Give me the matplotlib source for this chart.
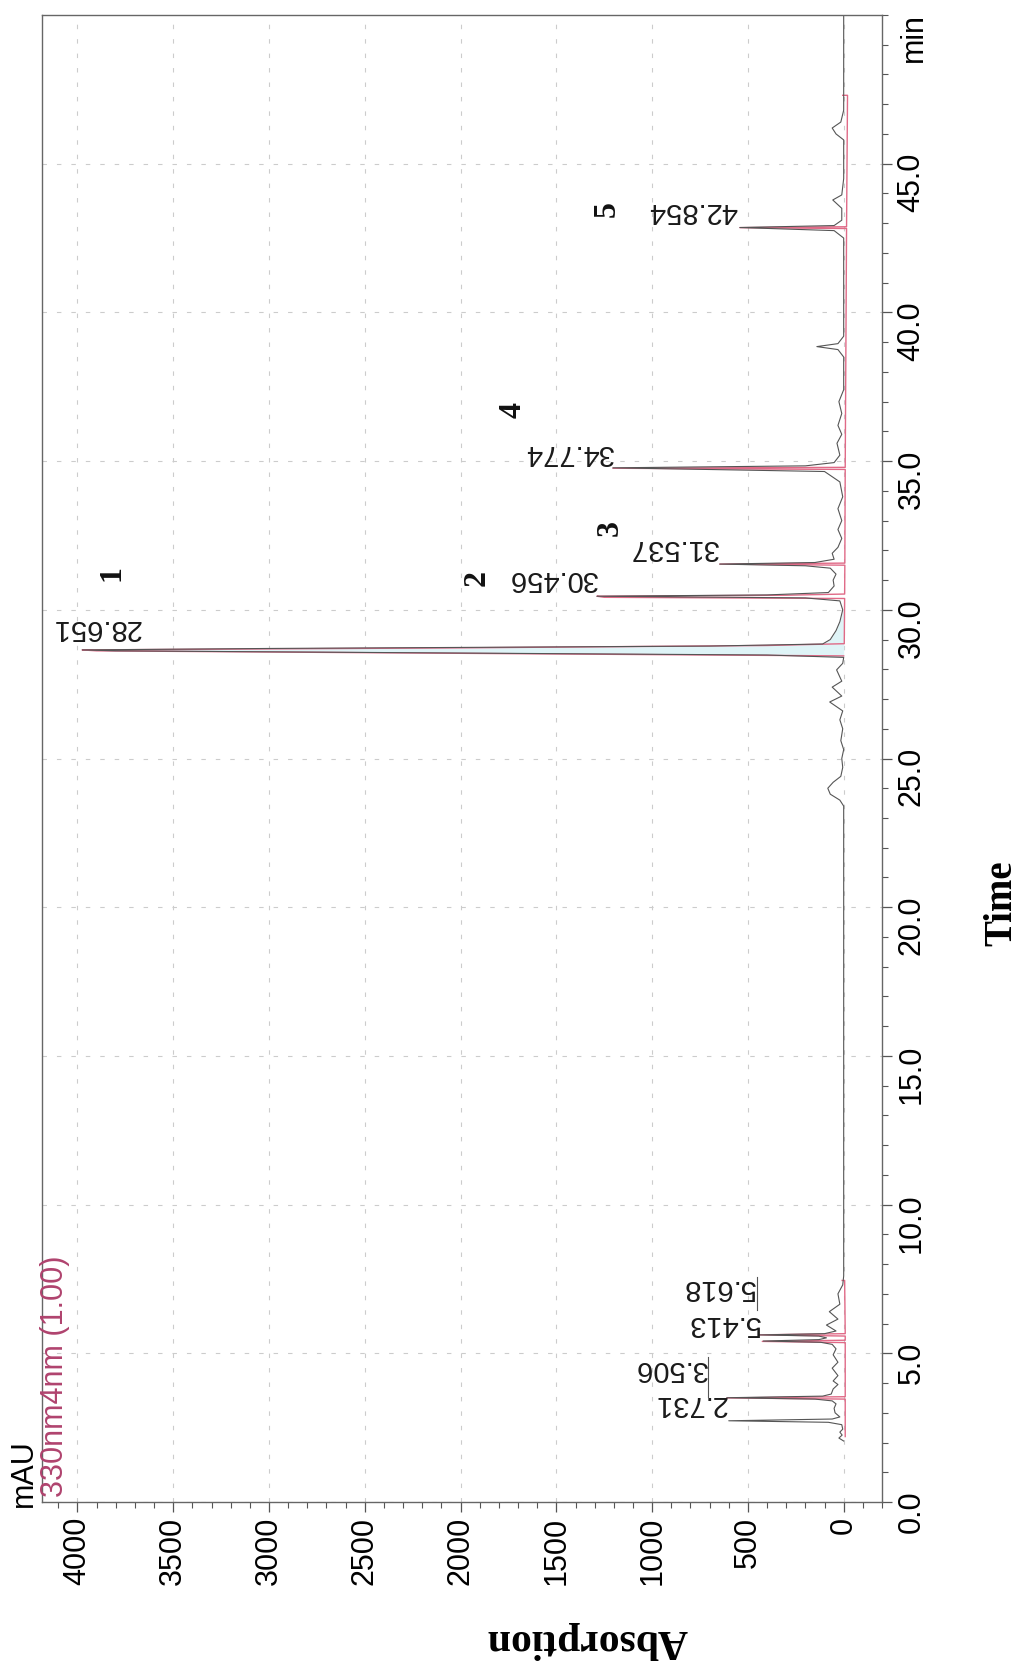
import numpy as np
import matplotlib
matplotlib.use("Agg")
import matplotlib.pyplot as plt
from matplotlib.ticker import MultipleLocator, FixedLocator, FormatStrFormatter

plt.rcParams['font.family'] = ['Liberation Sans', 'DejaVu Sans']

# grey chromatogram trace (retention time in min, absorbance in mAU)
gray_time = [2.05, 2.15, 2.25, 2.35, 2.45, 2.60, 2.68, 2.731, 2.79, 2.86, 3.00, 3.15, 3.30, 3.40,
             3.46, 3.506, 3.56, 3.63, 3.80, 3.95, 4.07, 4.25, 4.50, 4.70, 4.95, 5.15, 5.30, 5.37,
             5.413, 5.46, 5.52, 5.58, 5.618, 5.66, 5.75, 5.95, 6.15, 6.40, 6.65, 7.00, 7.30, 7.60,
             12.0, 18.0, 23.4, 23.6, 23.8, 24.0, 24.2, 24.4, 24.7, 25.0, 25.3, 25.6, 26.0, 26.3,
             26.6, 26.9, 27.1, 27.4, 27.6, 27.98, 28.2, 28.40, 28.48, 28.62, 28.651, 28.70, 28.78,
             28.85, 29.0, 29.3, 29.6, 30.0, 30.3, 30.40, 30.456, 30.50, 30.58, 30.8, 31.0, 31.2,
             31.40, 31.48, 31.537, 31.59, 31.7, 31.9, 32.1, 32.4, 32.7, 33.0, 33.4, 33.8, 34.3,
             34.65, 34.774, 34.84, 34.95, 35.2, 35.6, 35.9, 36.2, 36.6, 37.0, 37.4, 38.5, 38.75,
             38.85, 38.95, 39.2, 42.5, 42.75, 42.854, 42.92, 43.1, 43.5, 43.78, 43.95, 44.5, 45.8,
             46.0, 46.2, 46.4, 46.8, 50.0]
gray_mau = [0, 25, 8, 20, 5, 10, 80, 600, 60, 20, 45, 50, 40, 60,
            150, 610, 110, 65, 55, 30, 55, 30, 60, 30, 55, 40, 60, 120,
            420, 130, 90, 130, 440, 100, 40, 90, 30, 75, 20, 30, 5, 0,
            0, 0, 0, 20, 70, 83, 55, 15, 5, 10, 0, 15, 5, 20,
            5, 73, 10, 60, 10, 37, 5, 0, 400, 3800, 3975, 3000, 700,
            110, 70, 40, 20, 5, 20, 200, 1288, 400, 80, 50, 55, 40,
            70, 200, 647, 150, 50, 60, 30, 10, 30, 10, 30, 5, 20,
            100, 1205, 200, 50, 20, 35, 10, 30, 10, 25, 0, 0, 30,
            140, 30, 0, 0, 50, 542, 50, 10, 10, 57, 10, 0, 0,
            40, 60, 15, 0, 0]

# pink integration trace, two windows
pink1_time = [2.20, 3.46, 3.50, 3.54, 5.36, 5.40, 5.44, 5.58, 5.62, 5.66, 7.45, 7.45]
pink1_mau = [-8, -8, 610, -8, -8, 425, -8, -8, 440, -8, -5, 8]
pink2_time = [28.45, 28.48, 28.62, 28.651, 28.72, 28.80, 28.86, 30.38, 30.42, 30.456, 30.49,
              30.53, 31.50, 31.537, 31.57, 34.72, 34.76, 34.79, 42.82, 42.85, 42.88, 47.3, 47.3]
pink2_mau = [0, 700, 3900, 3975, 2000, 400, -3, -5, 1250, 1288, 300, -5, -6, 647, -6,
             -8, 1205, -8, -15, 542, -15, -20, 5]

# labelled peaks
peak_times = [2.731, 3.506, 5.413, 5.618, 28.651, 30.456, 31.537, 34.774, 42.854]
peak_names = ["1", "2", "3", "4", "5"]
name_pos = [(3817, 31.24), (1914, 31.07), (1220, 32.75), (1726, 36.72), (1236, 43.48)]

# label anchors (mAU, min) and leader lines
label_pos = [(610, 2.82), (712, 4.0), (440, 5.51), (462, 6.72), (3670, 28.92),
             (1288, 30.56), (655, 31.61), (1205, 34.80), (553, 42.93)]
leaders = [(710, 3.52, 4.87), (454, 6.45, 7.55)]

fig = plt.figure(figsize=(10.24, 16.61), dpi=100)
ax = fig.add_axes([42 / 1024, 1 - 1502 / 1661, 840 / 1024, 1487 / 1661])

gt = np.array(gray_time)
gm = np.array(gray_mau)
sel = (gt >= 28.40) & (gt <= 30.0)
ax.fill_betweenx(gt[sel], gm[sel], 0, color='#dff4f7', lw=0)

ax.plot(pink1_mau, pink1_time, color='#e06a87', lw=1.0)
ax.plot(pink2_mau, pink2_time, color='#e06a87', lw=1.0)
ax.plot(gray_mau, gray_time, color='#555555', lw=0.8)

for t, (m, ty) in zip(peak_times, label_pos):
    ax.text(m, ty, f"{t:.3f}", rotation=180, rotation_mode='anchor',
            ha='left', va='top', fontsize=21, color='#1a1a1a')
for m, t0, t1 in leaders:
    ax.plot([m, m], [t0, t1], color='#555555', lw=0.8)

for name, (m, t) in zip(peak_names, name_pos):
    ax.text(m, t, name, rotation=90, ha='center', va='center', fontsize=23,
            family='Liberation Serif', weight='bold', color='#111111')

ax.set_xlim(4185, -200)
ax.set_ylim(0, 50)
ax.xaxis.set_major_locator(MultipleLocator(500))
ax.xaxis.set_minor_locator(MultipleLocator(100))
ax.yaxis.set_major_locator(FixedLocator(np.arange(0, 46, 5)))
ax.yaxis.set_minor_locator(MultipleLocator(1))
ax.yaxis.set_major_formatter(FormatStrFormatter('%.1f'))
ax.yaxis.tick_right()
ax.tick_params(axis='both', which='major', direction='out', length=7, width=0.9,
               color='#555555', labelsize=22, pad=3.5, labelrotation=90)
ax.tick_params(axis='both', which='minor', direction='out', length=4, width=0.8, color='#555555')
for s in ax.spines.values():
    s.set_color('#666666')
    s.set_linewidth(1.0)
ax.grid(True, which='major', ls=(0, (4, 9)), color='#cccccc', lw=0.8)
ax.set_axisbelow(True)

fig.text(24 / 1024, 1 - 1507 / 1661, "mAU", rotation=90, ha='center', va='bottom', fontsize=22)
fig.text(55 / 1024, 1 - 1497 / 1661, "330nm4nm (1.00)", rotation=90, ha='center', va='bottom',
         fontsize=22, color='#b0436e')
fig.text(914 / 1024, 1 - 13 / 1661, "min", rotation=90, ha='center', va='top', fontsize=22)
fig.text(1002 / 1024, 1 - 903 / 1661, "Time", rotation=90, ha='center', va='center',
         fontsize=28, family='Liberation Serif', weight='bold')
fig.text(587 / 1024, 1 - 1640 / 1661, "Absorption", rotation=180, ha='center', va='center',
         fontsize=30, family='Liberation Serif', weight='bold')

fig.savefig("out.png", dpi=100)
